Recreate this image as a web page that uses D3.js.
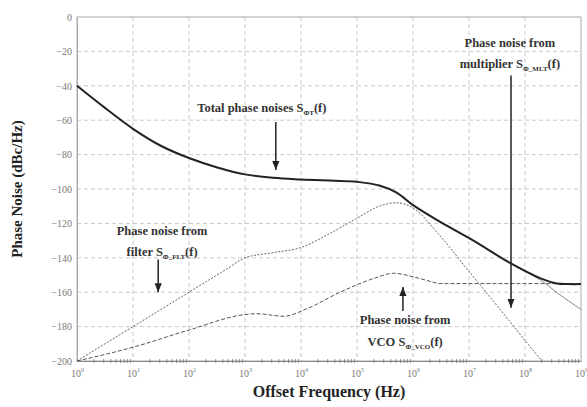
<!DOCTYPE html>
<html>
<head>
<meta charset="utf-8">
<script src="https://cdn.jsdelivr.net/npm/d3@7"></script>
<style>
  body { margin: 0; background: #fff; }
  svg { display: block; font-family: "Liberation Serif", "DejaVu Serif", serif; }
  .grid line { stroke: #bbb; stroke-dasharray: 4,3; stroke-width: 0.8; }
  .tick text { fill: #777; font-size: 10px; font-family: "Liberation Serif", serif; }
</style>
</head>
<body>
<svg id="chart" width="587" height="407"></svg>
<script>
// y ticks and x decades
var yTicks = [0, -20, -40, -60, -80, -100, -120, -140, -160, -180, -200];
var xDecades = [0, 1, 2, 3, 4, 5, 6, 7, 8, 9];

// Total phase noise (thick black)
var totalF  = [1e0, 3.2e0, 1e1, 3.2e1, 1e2, 3.2e2, 1e3, 3.2e3, 1e4, 1.1e5, 2.5e5, 5e5, 1.07e6, 3e6, 1.2e7, 5.4e7, 1.9e8, 3.7e8, 6e8, 1e9];
var totalDb = [-40, -53, -65, -75, -82, -87.5, -91.5, -93.5, -94.5, -96, -98, -102, -110, -119, -130, -143, -152, -155, -155.3, -155.3];

// Multiplier contribution (thin solid grey, runs under the total, split off at the right)
var mltF  = [1.07e6, 3e6, 1.2e7, 5.4e7, 1.9e8, 4e8, 1e9];
var mltDb = [-110, -119, -130, -143, -153, -161, -170];

// Filter contribution (dotted)
var fltF  = [1e0, 1e1, 1e2, 5e2, 1e3, 3.2e3, 1e4, 3.2e4, 1e5, 2.5e5, 5e5, 1e6, 3e6, 1e7, 3.2e7, 1e8, 2e8];
var fltDb = [-200, -180, -160, -146, -140, -137, -134, -126, -117, -110, -108, -111, -127, -148, -168, -188, -200];

// VCO contribution (dashed)
var vcoF  = [1e0, 1e1, 1e2, 1e3, 1.6e3, 5e3, 1.2e4, 5e4, 2e5, 4.5e5, 1e6, 2.2e6, 3e6, 1e7, 1e8, 1e9];
var vcoDb = [-200, -192, -182, -173, -172.5, -174, -170, -160, -152, -149, -151, -154, -155, -155, -155, -155];

var svg = d3.select('#chart'),
  width = +svg.attr('width'),
  height = +svg.attr('height');
var margin = { top: 17, right: 6, bottom: 46, left: 77 };
var w = width - margin.left - margin.right,
  h = height - margin.top - margin.bottom;

var x = d3.scaleLog().domain([1, 1e9]).range([0, w]);
var y = d3.scaleLinear().domain([-200, 0]).range([h, 0]);

var g = svg.append('g').attr('transform', 'translate(' + margin.left + ',' + margin.top + ')');

// grid
var grid = g.append('g').attr('class', 'grid');
grid.selectAll('.gy').data(yTicks.slice(1, -1)).enter().append('line')
  .attr('x1', 0).attr('x2', w)
  .attr('y1', d => y(d)).attr('y2', d => y(d));
grid.selectAll('.gx').data(xDecades.slice(1, -1)).enter().append('line')
  .attr('y1', 0).attr('y2', h)
  .attr('x1', d => x(Math.pow(10, d))).attr('x2', d => x(Math.pow(10, d)));

// frame
g.append('rect').attr('width', w).attr('height', h)
  .attr('fill', 'none').attr('stroke', '#aaa').attr('stroke-width', 1);

// y axis
var yAxis = g.append('g').call(d3.axisLeft(y).tickValues(yTicks).tickSize(0).tickPadding(5));
yAxis.attr('font-family', null);
yAxis.select('.domain').attr('stroke', '#aaa');

// x axis: decades with superscripts, minor ticks
var xAxis = g.append('g').attr('transform', 'translate(0,' + h + ')')
  .call(d3.axisBottom(x).tickValues(xDecades.map(d => Math.pow(10, d))).tickSize(0).tickPadding(9).tickFormat(''));
xAxis.attr('font-family', null);
xAxis.select('.domain').attr('stroke', '#888');
xAxis.selectAll('.tick text').each(function(d) {
  var t = d3.select(this);
  t.append('tspan').text('10');
  t.append('tspan').attr('dy', -5).attr('font-size', 6).text(Math.round(Math.log10(d)));
});
var minor = [];
xDecades.slice(0, -1).forEach(function(e) {
  for (var k = 2; k < 10; k++) minor.push(k * Math.pow(10, e));
});
g.append('g').selectAll('line').data(minor).enter().append('line')
  .attr('x1', d => x(d)).attr('x2', d => x(d))
  .attr('y1', h - 2).attr('y2', h + 2)
  .attr('stroke', '#777').attr('stroke-width', 0.8);

// axis titles
svg.append('text')
  .attr('transform', 'translate(22,' + (margin.top + h / 2) + ') rotate(-90)')
  .attr('text-anchor', 'middle').attr('font-size', 15).attr('font-weight', 'bold').attr('fill', '#222')
  .text('Phase Noise (dBc/Hz)');
svg.append('text')
  .attr('x', margin.left + w / 2).attr('y', 397)
  .attr('text-anchor', 'middle').attr('font-size', 16).attr('font-weight', 'bold').attr('fill', '#222')
  .text('Offset Frequency (Hz)');

// curves
var line = d3.line().x(d => x(d[0])).y(d => y(d[1])).curve(d3.curveMonotoneX);
var smooth = d3.line().x(d => x(d[0])).y(d => y(d[1])).curve(d3.curveCatmullRom.alpha(0.5));
function zip(a, b) { return a.map((v, i) => [v, b[i]]); }

g.append('path').datum(zip(mltF, mltDb)).attr('d', smooth)
  .attr('fill', 'none').attr('stroke', '#888').attr('stroke-width', 1);
g.append('path').datum(zip(fltF, fltDb)).attr('d', line)
  .attr('fill', 'none').attr('stroke', '#666').attr('stroke-width', 1).attr('stroke-dasharray', '2,1.5');
g.append('path').datum(zip(vcoF, vcoDb)).attr('d', line)
  .attr('fill', 'none').attr('stroke', '#555').attr('stroke-width', 1).attr('stroke-dasharray', '4,2');
g.append('path').datum(zip(totalF, totalDb)).attr('d', smooth)
  .attr('fill', 'none').attr('stroke', '#222').attr('stroke-width', 2);

// annotations (data coordinates: log10 f, dB)
var notes = [
  { cx: 3.3, lines: [[-55, 'Total phase noises S', 'ΦT', '(f)']], arrow: [3.55, -61, -89] },
  { cx: 7.73, lines: [[-17.5, 'Phase noise from'], [-29.5, 'multiplier S', 'Φ_MLT', '(f)']], arrow: [7.75, -34, -169] },
  { cx: 1.52, lines: [[-127, 'Phase noise from'], [-139, 'filter S', 'Φ_FLT', '(f)']], arrow: [1.45, -141, -160] },
  { cx: 5.86, lines: [[-178.5, 'Phase noise from'], [-191, 'VCO S', 'Φ_VCO', '(f)']], arrow: [5.82, -171, -157] }
];

var defs = svg.append('defs');
defs.append('marker').attr('id', 'ah').attr('viewBox', '0 0 10 10')
  .attr('refX', 10).attr('refY', 5).attr('markerWidth', 9).attr('markerHeight', 9)
  .attr('markerUnits', 'userSpaceOnUse').attr('orient', 'auto')
  .append('path').attr('d', 'M0,1 L10,5 L0,9 Z').attr('fill', '#222');

notes.forEach(function(n) {
  n.lines.forEach(function(l) {
    var t = g.append('text')
      .attr('x', x(Math.pow(10, n.cx))).attr('y', y(l[0]))
      .attr('text-anchor', 'middle').attr('font-size', 12.5).attr('font-weight', 'bold').attr('fill', '#333');
    t.append('tspan').text(l[1]);
    if (l[2]) {
      t.append('tspan').attr('font-size', 7).attr('dy', 3).text(l[2]);
      t.append('tspan').attr('dy', -3).text(l[3]);
    }
  });
  var ax = x(Math.pow(10, n.arrow[0]));
  g.append('line')
    .attr('x1', ax).attr('x2', ax)
    .attr('y1', y(n.arrow[1])).attr('y2', y(n.arrow[2]))
    .attr('stroke', '#222').attr('stroke-width', 1.5)
    .attr('marker-end', 'url(#ah)');
});
</script>
</body>
</html>
